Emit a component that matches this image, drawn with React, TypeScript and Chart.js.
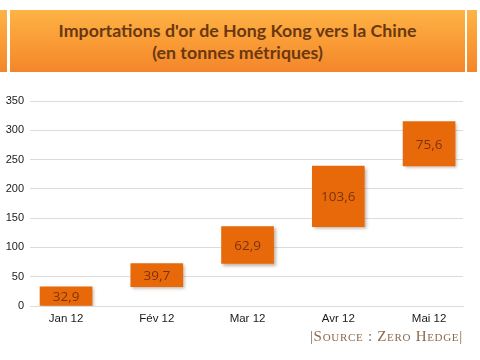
import React, { useEffect, useRef } from "react";
import { Chart, registerables } from "chart.js";

Chart.register(...registerables);

const categories = ["Jan 12", "Fév 12", "Mar 12", "Avr 12", "Mai 12"];
const monthlyImports = [32.9, 39.7, 62.9, 103.6, 75.6];
const yTicks = [0, 50, 100, 150, 200, 250, 300, 350];

const titleLines = ["Importations d'or de Hong Kong vers la Chine", "(en tonnes métriques)"];
const sourceText = "|Source : Zero Hedge|";

export default function App() {
  const canvasRef = useRef<HTMLCanvasElement | null>(null);

  useEffect(() => {
    document.body.style.margin = "0";
    const canvas = canvasRef.current;
    if (!canvas) return;

    let running = 0;
    const floating = monthlyImports.map((v, i) => {
      const start = running;
      running += v;
      return { x: i, y: [start, running] };
    });

    const shadowPlugin = {
      id: "barShadow",
      beforeDatasetsDraw(chart: any) {
        const ctx = chart.ctx;
        ctx.save();
        ctx.shadowColor = "rgba(90,40,0,0.35)";
        ctx.shadowOffsetX = 2;
        ctx.shadowOffsetY = 2;
        ctx.shadowBlur = 3;
      },
      afterDatasetsDraw(chart: any) {
        const ctx = chart.ctx;
        ctx.restore();
        const meta = chart.getDatasetMeta(0);
        ctx.save();
        ctx.font = "500 13.5px 'Open Sans'";
        ctx.fillStyle = "#7c330c";
        ctx.textAlign = "center";
        ctx.textBaseline = "middle";
        meta.data.forEach((el: any, i: number) => {
          const yc = (el.y + el.base) / 2;
          ctx.fillText(monthlyImports[i].toFixed(1).replace(".", ","), el.x, yc + 1);
        });
        ctx.restore();
      },
    };

    const chart = new Chart(canvas, {
      type: "bar",
      data: {
        datasets: [
          {
            data: floating as any,
            backgroundColor: "#e8690a",
            borderWidth: 0,
            barThickness: 52,
          } as any,
        ],
      },
      options: {
        animation: false,
        responsive: false,
        maintainAspectRatio: false,
        layout: { padding: { top: 16, right: 17, left: 0, bottom: 0 } },
        plugins: {
          legend: { display: false },
          tooltip: { enabled: false },
          title: { display: false },
        },
        scales: {
          x: {
            type: "linear",
            offset: false,
            min: -0.397,
            max: 4.374,
            grid: { display: false, drawTicks: false, offset: false },
            border: { display: true, color: "#dcdcdc", width: 1 },
            afterBuildTicks(scale: any) {
              scale.ticks = categories.map((_, i) => ({ value: i }));
            },
            afterFit(scale: any) {
              scale.height = 24;
            },
            ticks: {
              padding: 6,
              autoSkip: false,
              maxRotation: 0,
              color: "#1a1a1a",
              font: { family: "'Liberation Sans', Arial", size: 11.5 },
              callback: (v: any) => categories[Math.round(Number(v))] ?? "",
            },
          },
          y: {
            min: 0,
            max: 350,
            grid: { color: "#dcdcdc", drawTicks: false, lineWidth: 1 },
            border: { display: false },
            afterBuildTicks(scale: any) {
              scale.ticks = yTicks.map((v) => ({ value: v }));
            },
            afterFit(scale: any) {
              scale.width = 30;
            },
            ticks: {
              padding: 6,
              color: "#1a1a1a",
              font: { family: "'Liberation Sans', Arial", size: 11 },
            },
          },
        },
      },
      plugins: [shadowPlugin],
    });

    return () => chart.destroy();
  }, []);

  const bannerBg = "linear-gradient(to bottom, #fdb346 0%, #f99a35 55%, #f3862a 100%)";

  return (
    <div style={{ position: "relative", width: 480, height: 360, background: "#fff", overflow: "hidden" }}>
      <div style={{ position: "absolute", left: 0, top: 10, width: 7, height: 62, background: bannerBg }} />
      <div style={{ position: "absolute", left: 467, top: 10, width: 10, height: 62, background: bannerBg }} />
      <div
        style={{
          position: "absolute",
          left: 10,
          top: 10,
          width: 455,
          height: 62,
          background: bannerBg,
          display: "flex",
          flexDirection: "column",
          alignItems: "center",
          justifyContent: "center",
          color: "#6a3810",
          fontFamily: "Lato, 'Open Sans', sans-serif",
          fontWeight: 700,
          fontSize: 17.8,
          lineHeight: "22px",
        }}
      >
        <div>{titleLines[0]}</div>
        <div>{titleLines[1]}</div>
      </div>
      <canvas
        ref={canvasRef}
        width={480}
        height={245}
        style={{ position: "absolute", left: 0, top: 85, width: 480, height: 245 }}
      />
      <div
        style={{
          position: "absolute",
          right: 17,
          top: 328,
          fontFamily: "'Liberation Serif', 'DejaVu Serif', serif",
          fontVariant: "small-caps",
          fontSize: 15,
          letterSpacing: 0.7,
          color: "#8a6a4c",
          whiteSpace: "nowrap",
        }}
      >
        {sourceText}
      </div>
    </div>
  );
}
